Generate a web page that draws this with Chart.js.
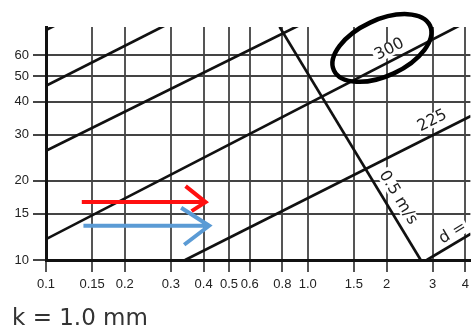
<!DOCTYPE html>
<html>
<head>
<meta charset="utf-8">
<script src="https://cdn.jsdelivr.net/npm/chart.js@4.4.0/dist/chart.umd.min.js"></script>
<style>
  html, body { margin: 0; padding: 0; background: #fff; }
  #chart { display: block; }
</style>
</head>
<body>
<canvas id="chart" width="474" height="327"></canvas>
<script>
// axis ticks
const xTicks = [0.1, 0.15, 0.2, 0.3, 0.4, 0.5, 0.6, 0.8, 1.0, 1.5, 2, 3, 4];
const xTickLabels = ['0.1', '0.15', '0.2', '0.3', '0.4', '0.5', '0.6', '0.8', '1.0', '1.5', '2', '3', '4'];
const yTicks = [10, 15, 20, 30, 40, 50, 60];
const yTickLabels = ['10', '15', '20', '30', '40', '50', '60'];

// pipe diameter lines (mm), two points each
const diameters = [600, 500, 400, 300, 225, 150];
const diamX = [[0.1, 0.2], [0.1, 0.3], [0.1, 1.0], [0.1, 4.2], [0.34, 4.2], [2.85, 4.2]];
const diamY = [[74.9, 106], [46, 80], [26, 81], [12, 82], [10, 35.3], [10, 12.6]];

// velocity line 0.5 m/s
const velX = [0.78, 2.7];
const velY = [77, 10];

// the two arrows drawn over the scan
const arrowY = [16.6, 13.5];
const arrowX0 = [0.137, 0.139];
const arrowX1 = [0.407, 0.42];
const arrowColors = ['#ff1010', '#5b9bd5'];

function toPoints(xs, ys) {
    return xs.map((v, j) => ({ x: v, y: ys[j] }));
}

// y on a straight log-log line at x
function lineYAt(xs, ys, xv) {
    const t = (Math.log(xv) - Math.log(xs[0])) / (Math.log(xs[1]) - Math.log(xs[0]));
    return Math.exp(Math.log(ys[0]) + t * (Math.log(ys[1]) - Math.log(ys[0])));
}

const datasets = diameters.map((d, i) => ({
    label: 'd = ' + d,
    data: toPoints(diamX[i], diamY[i]),
    borderColor: '#111',
    borderWidth: 2.7,
    pointRadius: 0,
    clip: 0
}));
datasets.push({
    label: '0.5 m/s',
    data: toPoints(velX, velY),
    borderColor: '#111',
    borderWidth: 2.7,
    pointRadius: 0,
    clip: 0
});

const annotations = {
    id: 'annotations',
    afterDatasetsDraw(chart) {
        const ctx = chart.ctx;
        const x = chart.scales.x;
        const y = chart.scales.y;

        // labels along the lines
        const labels = [
            { text: '300', xs: diamX[3], ys: diamY[3], at: 2.145, off: 11, align: 'center' },
            { text: '225', xs: diamX[4], ys: diamY[4], at: 3.15, off: 13, align: 'center' },
            { text: 'd =', xs: diamX[5], ys: diamY[5], at: 3.36, off: 10, align: 'left' },
            { text: '0.5 m/s', xs: velX, ys: velY, at: 2.007, off: 13, align: 'center' }
        ];
        ctx.save();
        ctx.font = '16px "DejaVu Sans"';
        labels.forEach(l => {
            const px0 = x.getPixelForValue(l.xs[0]), py0 = y.getPixelForValue(l.ys[0]);
            const px1 = x.getPixelForValue(l.xs[1]), py1 = y.getPixelForValue(l.ys[1]);
            const ang = Math.atan2(py1 - py0, px1 - px0);
            const fx = x.getPixelForValue(l.at);
            const fy = y.getPixelForValue(lineYAt(l.xs, l.ys, l.at));
            ctx.save();
            ctx.translate(fx + l.off * Math.sin(ang), fy - l.off * Math.cos(ang));
            ctx.rotate(ang);
            const w = ctx.measureText(l.text).width;
            const left = l.align === 'left' ? 0 : -w / 2;
            ctx.fillStyle = '#fff';
            ctx.fillRect(left - 2, -7, w + 4, 14);
            ctx.fillStyle = '#1e1e1e';
            ctx.textAlign = l.align;
            ctx.textBaseline = 'middle';
            ctx.fillText(l.text, 0, 0);
            ctx.restore();
        });

        // hand drawn ellipse round the 300 label
        ctx.beginPath();
        ctx.ellipse(x.getPixelForValue(1.92), y.getPixelForValue(64), 53, 28, -25 * Math.PI / 180, 0, Math.PI * 2);
        ctx.strokeStyle = '#000';
        ctx.lineWidth = 4.5;
        ctx.stroke();

        // arrows
        const heads = [[[-20, -16], [-14, 9]], [[-28, -18], [-25, 19]]];
        arrowY.forEach((v, i) => {
            const yy = y.getPixelForValue(v);
            const xa = x.getPixelForValue(arrowX0[i]);
            const xb = x.getPixelForValue(arrowX1[i]);
            ctx.strokeStyle = arrowColors[i];
            ctx.lineWidth = 4;
            ctx.beginPath();
            ctx.moveTo(xa, yy);
            ctx.lineTo(xb, yy);
            ctx.moveTo(xb + heads[i][0][0], yy + heads[i][0][1]);
            ctx.lineTo(xb, yy);
            ctx.lineTo(xb + heads[i][1][0], yy + heads[i][1][1]);
            ctx.stroke();
        });

        // roughness note under the chart
        ctx.font = '23px "DejaVu Sans"';
        ctx.fillStyle = '#333';
        ctx.textAlign = 'left';
        ctx.textBaseline = 'alphabetic';
        ctx.fillText('k = 1.0 mm', 12, 325);
        ctx.restore();
    }
};

new Chart(document.getElementById('chart'), {
    type: 'line',
    data: { datasets: datasets },
    options: {
        responsive: false,
        animation: false,
        devicePixelRatio: 1,
        layout: { padding: { top: 27, left: 0, right: 0, bottom: 0 } },
        plugins: {
            legend: { display: false },
            tooltip: { enabled: false }
        },
        scales: {
            x: {
                type: 'logarithmic',
                min: 0.1,
                max: 4.18,
                afterBuildTicks: s => { s.ticks = xTicks.map(v => ({ value: v })); },
                afterFit: s => { s.height = 67; },
                ticks: {
                    callback: (v, i) => xTickLabels[i],
                    autoSkip: false,
                    maxRotation: 0,
                    minRotation: 0,
                    color: '#222',
                    font: { family: 'Liberation Sans', size: 13 },
                    padding: 5
                },
                grid: { color: '#555', lineWidth: 2, tickLength: 12 },
                border: { color: '#111', width: 3 }
            },
            y: {
                type: 'logarithmic',
                min: 10,
                max: 76.9,
                afterBuildTicks: s => { s.ticks = yTicks.map(v => ({ value: v })); },
                afterFit: s => { s.width = 46; },
                ticks: {
                    callback: (v, i) => yTickLabels[i],
                    autoSkip: false,
                    color: '#222',
                    font: { family: 'Liberation Sans', size: 13 },
                    padding: 4
                },
                grid: { color: '#444', lineWidth: 2, tickLength: 13 },
                border: { color: '#111', width: 3 }
            }
        }
    },
    plugins: [annotations]
});
</script>
</body>
</html>
